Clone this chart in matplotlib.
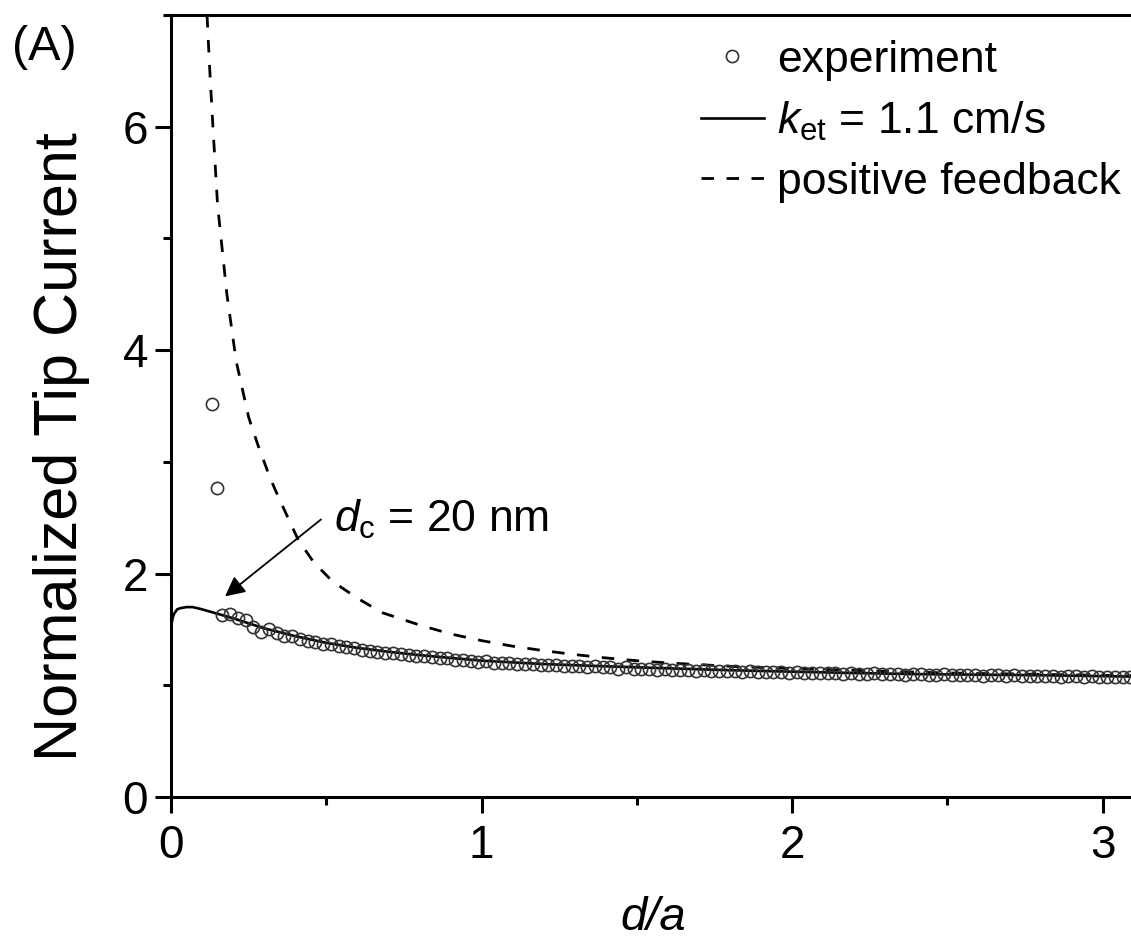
import numpy as np
import matplotlib
matplotlib.use("Agg")
import matplotlib.pyplot as plt
from matplotlib.ticker import MultipleLocator

plt.rcParams['font.family'] = ['Liberation Sans', 'DejaVu Sans']
plt.rcParams['mathtext.fontset'] = 'custom'
plt.rcParams['mathtext.rm'] = 'Liberation Sans'
plt.rcParams['mathtext.it'] = 'Liberation Sans:italic'

# experimental points (d/a, normalized tip current)
exp_x = [0.132, 0.148,
         0.165, 0.19, 0.215, 0.24, 0.265, 0.29, 0.315, 0.34, 0.365, 0.39,
         0.415, 0.44, 0.465, 0.49, 0.515, 0.54, 0.565, 0.59, 0.615, 0.64,
         0.665, 0.69, 0.715, 0.74, 0.765, 0.79, 0.815, 0.84, 0.865, 0.89,
         0.915, 0.94, 0.965, 0.99, 1.015, 1.04, 1.065, 1.09, 1.115, 1.14,
         1.165, 1.19, 1.215, 1.24, 1.265, 1.29, 1.315, 1.34, 1.365, 1.39,
         1.415, 1.44, 1.465, 1.49, 1.515, 1.54, 1.565, 1.59, 1.615, 1.64,
         1.665, 1.69, 1.715, 1.74, 1.765, 1.79, 1.815, 1.84, 1.865, 1.89,
         1.915, 1.94, 1.965, 1.99, 2.015, 2.04, 2.065, 2.09, 2.115, 2.14,
         2.165, 2.19, 2.215, 2.24, 2.265, 2.29, 2.315, 2.34, 2.365, 2.39,
         2.415, 2.44, 2.465, 2.49, 2.515, 2.54, 2.565, 2.59, 2.615, 2.64,
         2.665, 2.69, 2.715, 2.74, 2.765, 2.79, 2.815, 2.84, 2.865, 2.89,
         2.915, 2.94, 2.965, 2.99, 3.015, 3.04, 3.065, 3.09]
exp_y = [3.52, 2.77,
         1.63, 1.64, 1.60, 1.58, 1.52, 1.48, 1.50, 1.47, 1.44, 1.44,
         1.41, 1.40, 1.39, 1.37, 1.37, 1.35, 1.34, 1.33, 1.32, 1.31,
         1.30, 1.29, 1.29, 1.28, 1.27, 1.26, 1.26, 1.25, 1.24, 1.24,
         1.23, 1.23, 1.22, 1.21, 1.22, 1.20, 1.20, 1.20, 1.19, 1.19,
         1.19, 1.18, 1.18, 1.18, 1.17, 1.17, 1.17, 1.16, 1.17, 1.16,
         1.16, 1.15, 1.16, 1.15, 1.15, 1.15, 1.14, 1.15, 1.14, 1.14,
         1.14, 1.13, 1.14, 1.13, 1.13, 1.13, 1.13, 1.12, 1.13, 1.12,
         1.12, 1.12, 1.12, 1.11, 1.12, 1.11, 1.11, 1.11, 1.11, 1.11,
         1.10, 1.11, 1.10, 1.10, 1.11, 1.10, 1.10, 1.10, 1.09, 1.10,
         1.10, 1.09, 1.09, 1.10, 1.09, 1.09, 1.09, 1.09, 1.08, 1.09,
         1.09, 1.08, 1.09, 1.08, 1.08, 1.08, 1.08, 1.08, 1.07, 1.08,
         1.08, 1.07, 1.08, 1.07, 1.07, 1.07, 1.07, 1.07]

# fitted curve, k_et = 1.1 cm/s
fit_x = [0.0, 0.005, 0.01, 0.02, 0.03, 0.05, 0.07, 0.1, 0.15, 0.2, 0.25,
         0.3, 0.35, 0.4, 0.5, 0.6, 0.7, 0.8, 0.9, 1.0, 1.2, 1.4, 1.6, 1.8,
         2.0, 2.2, 2.4, 2.6, 2.8, 3.0, 3.1]
fit_y = [1.52, 1.60, 1.64, 1.68, 1.69, 1.70, 1.70, 1.68, 1.64, 1.60, 1.555,
         1.51, 1.475, 1.44, 1.38, 1.335, 1.30, 1.27, 1.245, 1.22, 1.19, 1.17,
         1.152, 1.135, 1.122, 1.11, 1.10, 1.095, 1.09, 1.082, 1.078]

# positive feedback curve
pf_x = [0.116, 0.125, 0.135, 0.15, 0.18, 0.21, 0.25, 0.28, 0.32, 0.35, 0.41,
        0.46, 0.52, 0.6, 0.68, 0.8, 0.9, 1.0, 1.1, 1.2, 1.3, 1.4, 1.5, 1.6,
        1.8, 2.0, 2.5, 3.1]
pf_y = [7.0, 6.5, 6.0, 5.3, 4.5, 3.9, 3.4, 3.15, 2.85, 2.66, 2.3,
        2.1, 1.93, 1.78, 1.65, 1.54, 1.46, 1.40, 1.35, 1.31, 1.275, 1.245, 1.22, 1.20,
        1.17, 1.15, 1.11, 1.085]

fig = plt.figure(figsize=(11.31, 9.42), dpi=100)
ax = fig.add_axes([171/1131, 1-797/942, 960.7/1131, 782/942])

ax.plot(exp_x, exp_y, 'o', ms=8.8, mfc='none', mec='#333333', mew=1.2,
        label='experiment', zorder=3)
ax.plot(fit_x, fit_y, '-', color='black', lw=1.9, label=r'$k_{\rm et}$ = 1.1 cm/s', zorder=2)
ax.plot(pf_x, pf_y, '--', color='black', lw=2.0, dashes=(4.5, 4.5),
        label='positive feedback', zorder=2)

ax.set_xlim(0, 3.094)
ax.set_ylim(0, 7)
ax.xaxis.set_major_locator(MultipleLocator(1))
ax.xaxis.set_minor_locator(MultipleLocator(0.5))
ax.yaxis.set_major_locator(MultipleLocator(2))
ax.yaxis.set_minor_locator(MultipleLocator(1))

for s in ['left', 'bottom', 'top']:
    ax.spines[s].set_linewidth(2.2)
ax.spines['right'].set_visible(False)
ax.tick_params(which='major', direction='out', length=11.5, width=2.2,
               labelsize=33, pad=5, top=False, right=False)
ax.tick_params(which='minor', direction='out', length=6, width=2.2,
               top=False, right=False)
ax.tick_params(axis='x', which='major', pad=8)

fig.text(62/1131, 1-447/942, 'Normalized Tip Current', rotation=90,
         ha='center', va='center', fontsize=44)
fig.text(653/1131, 1-918/942, 'd/a', style='italic', ha='center',
         va='center', fontsize=34)
fig.text(12/1131, 1-48/942, '(A)', ha='left', va='center', fontsize=35)

ax.annotate('', xy=(0.167, 1.78), xytext=(0.49, 2.50),
            arrowprops=dict(arrowstyle='-|>', color='black', lw=1.3,
                            mutation_scale=30))
ax.text(0.525, 2.37, r'$d_{\rm c}$ = 20 nm', fontsize=32, ha='left',
        va='baseline')

leg = ax.legend(loc='upper left', bbox_to_anchor=(0.552, 0.968),
                frameon=False, fontsize=32, handlelength=1.4,
                handletextpad=0.3, labelspacing=0.42, borderpad=0,
                borderaxespad=0)

fig.savefig('out.png', dpi=100)
